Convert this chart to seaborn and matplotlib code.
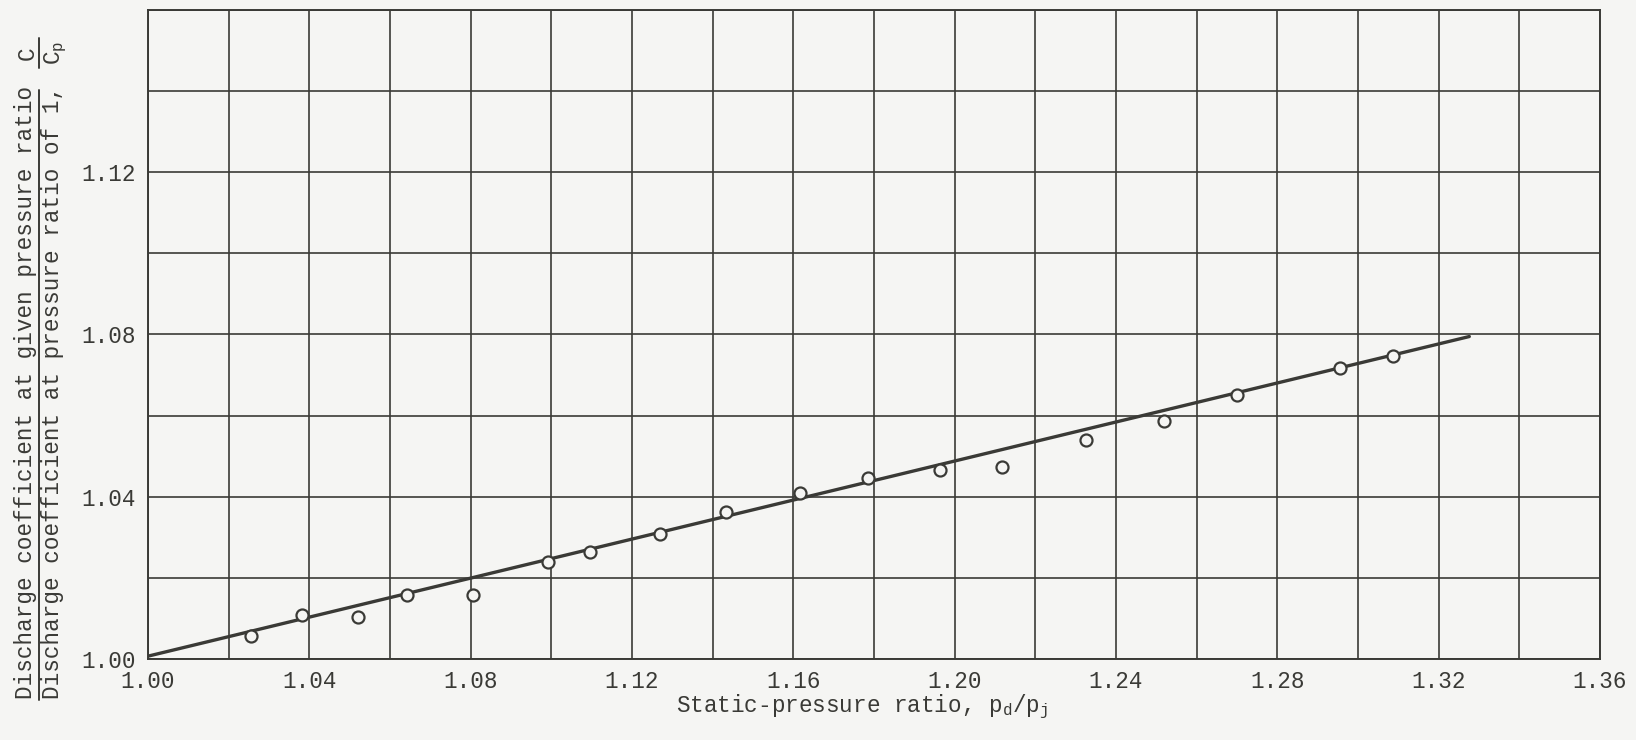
import numpy as np
import pandas as pd
import seaborn as sns
import matplotlib
matplotlib.use("Agg")
from matplotlib import pyplot as plt
from matplotlib.ticker import MultipleLocator
from matplotlib.lines import Line2D

# measured points
pressure_ratio = [1.0256, 1.0382, 1.0520, 1.0642, 1.0805, 1.0991, 1.1095, 1.1270, 1.1434,
                  1.1616, 1.1784, 1.1963, 1.2118, 1.2326, 1.2520, 1.2700, 1.2956, 1.3088]
coef_ratio = [1.0056, 1.0108, 1.0103, 1.0158, 1.0157, 1.0239, 1.0264, 1.0308, 1.0363,
              1.0410, 1.0446, 1.0466, 1.0474, 1.0541, 1.0586, 1.0651, 1.0718, 1.0746]
# faired line
fair_x = [1.00, 1.3276]
fair_y = [1.0007, 1.0795]

x_ticks = [1.00, 1.04, 1.08, 1.12, 1.16, 1.20, 1.24, 1.28, 1.32, 1.36]
y_ticks = [1.00, 1.04, 1.08, 1.12]

sns.set_style("white")
plt.rcParams['font.family'] = ['Liberation Mono', 'DejaVu Sans Mono']
plt.rcParams['mathtext.fontset'] = 'custom'
plt.rcParams['mathtext.rm'] = 'Liberation Mono'
plt.rcParams['mathtext.it'] = 'Liberation Mono'
plt.rcParams['mathtext.bf'] = 'Liberation Mono'

ink = '#3a3a36'
paper = '#f5f5f3'
fs = 16.3

df = pd.DataFrame({'x': pressure_ratio, 'y': coef_ratio})
line_df = pd.DataFrame({'x': fair_x, 'y': fair_y})

W, H = 1636, 740
fig = plt.figure(figsize=(W / 100, H / 100), dpi=100, facecolor=paper)
ax = fig.add_axes([148 / W, 1 - 659 / H, (1600 - 148) / W, (659 - 10) / H])
ax.set_facecolor(paper)

sns.lineplot(data=line_df, x='x', y='y', ax=ax, color=ink, linewidth=2.4, zorder=3)
sns.scatterplot(data=df, x='x', y='y', ax=ax, marker='o', s=75, facecolor=paper,
                edgecolor=ink, linewidth=1.6, zorder=4)

ax.set_xlim(1.00, 1.36)
ax.set_ylim(1.00, 1.16)
ax.set_xticks(x_ticks)
ax.set_xticklabels(['%.2f' % v for v in x_ticks])
ax.set_yticks(y_ticks)
ax.set_yticklabels(['%.2f' % v for v in y_ticks])
ax.xaxis.set_minor_locator(MultipleLocator(0.02))
ax.yaxis.set_minor_locator(MultipleLocator(0.02))
ax.grid(True, which='both', color=ink, linewidth=1.2)
ax.set_axisbelow(True)
ax.tick_params(which='both', length=0, labelsize=fs, colors=ink)
ax.tick_params(axis='x', pad=8)
ax.tick_params(axis='y', pad=9)
for s in ax.spines.values():
    s.set_color(ink)
    s.set_linewidth(1.4)

ax.set_xlabel(r'Static-pressure ratio, $\mathrm{p_d/p_j}$', fontsize=fs, color=ink)
ax.set_ylabel('')
ax.xaxis.set_label_coords(0.4917, -0.074)
ax.xaxis.label.set_verticalalignment('center')

# y label drawn as a typed fraction
def px(x, y):
    return x / W, 1 - y / H

fig.text(*px(26, 699), 'Discharge coefficient at given pressure ratio', rotation=90,
         ha='center', va='bottom', fontsize=fs, color=ink)
fig.text(*px(53, 699), 'Discharge coefficient at pressure ratio of 1,', rotation=90,
         ha='center', va='bottom', fontsize=fs, color=ink)
fig.add_artist(Line2D([39 / W, 39 / W], [1 - 700 / H, 1 - 90 / H], color=ink, linewidth=1.4))
fig.text(*px(27, 53), 'C', rotation=90, ha='center', va='center', fontsize=fs, color=ink)
fig.text(*px(56, 53), r'$\mathrm{C_p}$', rotation=90, ha='center', va='center', fontsize=fs, color=ink)
fig.add_artist(Line2D([39 / W, 39 / W], [1 - 68 / H, 1 - 38 / H], color=ink, linewidth=1.4))

fig.savefig('out.png', dpi=100, facecolor=paper)
